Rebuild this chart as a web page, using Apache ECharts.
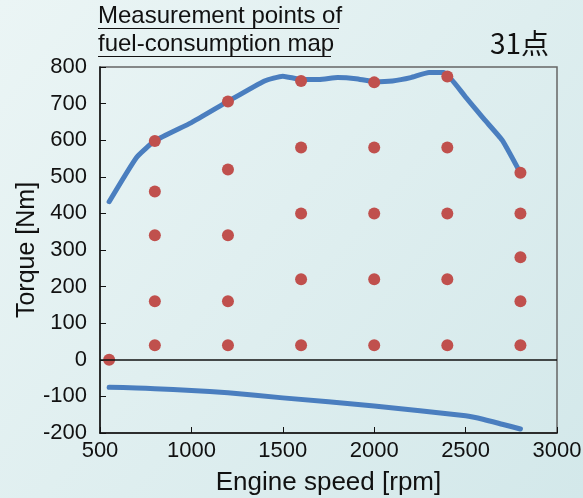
<!DOCTYPE html>
<html>
<head>
<meta charset="utf-8">
<script src="https://cdn.jsdelivr.net/npm/echarts@6/dist/echarts.min.js"></script>
<style>
  html, body { margin: 0; padding: 0; }
  #main { width: 583px; height: 498px; }
</style>
</head>
<body>
<div id="main"></div>
<script>
// measurement points (rpm, Nm)
var pointRpm = [550, 800, 800, 800, 800, 800, 1200, 1200, 1200, 1200, 1200,
  1600, 1600, 1600, 1600, 1600, 2000, 2000, 2000, 2000, 2000,
  2400, 2400, 2400, 2400, 2400, 2800, 2800, 2800, 2800, 2800];
var pointTorque = [0, 598, 460, 340, 160, 40, 706, 520, 340, 160, 40,
  762, 580, 400, 220, 40, 758, 580, 400, 220, 40,
  774, 580, 400, 220, 40, 511, 400, 280, 160, 40];

// full load curve
var maxRpm = [550, 700, 800, 1000, 1200, 1400, 1500, 1600, 1700, 1800, 1900, 2000, 2100, 2200, 2300, 2380, 2500, 2600, 2700, 2800];
var maxTorque = [432, 553, 598, 648, 706, 762, 775, 766, 766, 771, 768, 760, 762, 771, 785, 785, 718, 658, 600, 510];

// motoring curve
var motRpm = [550, 700, 800, 1000, 1200, 1500, 2000, 2500, 2600, 2700, 2800];
var motTorque = [-75, -77, -79, -84, -90, -104, -126, -153, -163, -176, -189];

var xTicks = [500, 3000, 500];     // min, max, step
var yTicks = [-200, 800, 100];

function zip(a, b) {
  return a.map(function (v, i) { return [v, b[i]]; });
}

var chart = echarts.init(document.getElementById('main'));
var font = 'Liberation Sans, Arial, sans-serif';

var option = {
  backgroundColor: new echarts.graphic.LinearGradient(0, 0, 1, 1, [
    { offset: 0, color: '#ebf5f5' },
    { offset: 1, color: '#d3e8ea' }
  ]),
  animation: false,
  textStyle: { fontFamily: font },
  grid: {
    left: 100, right: 26, top: 67, bottom: 65,
    outerBoundsMode: 'none',
    containLabel: false,
    show: true, borderColor: '#666', borderWidth: 1.5
  },
  graphic: [
    { type: 'text', left: 98, top: 4, style: { text: 'Measurement points of', font: '24px ' + font, fill: '#111' } },
    { type: 'line', shape: { x1: 98, y1: 28.5, x2: 339, y2: 28.5 }, style: { stroke: '#111', lineWidth: 1.2 } },
    { type: 'text', left: 98, top: 32, style: { text: 'fuel-consumption map', font: '24px ' + font, fill: '#111' } },
    { type: 'line', shape: { x1: 98, y1: 56.5, x2: 331, y2: 56.5 }, style: { stroke: '#111', lineWidth: 1.2 } },
    { type: 'text', left: 490, top: 29, style: { text: '31点', font: '28px "Noto Sans CJK JP", ' + font, fill: '#111' } }
  ],
  xAxis: {
    type: 'value',
    min: xTicks[0], max: xTicks[1], interval: xTicks[2],
    name: 'Engine speed [rpm]',
    nameLocation: 'middle',
    nameGap: 37,
    nameMoveOverlap: false,
    nameTextStyle: { fontSize: 26, color: '#111' },
    axisLine: { onZero: false, lineStyle: { color: '#111', width: 1.5 } },
    axisTick: { inside: true, length: 6, lineStyle: { color: '#111' } },
    axisLabel: { fontSize: 22, color: '#111', margin: 7, formatter: function (v) { return String(v); } },
    splitLine: { show: false }
  },
  yAxis: {
    type: 'value',
    min: yTicks[0], max: yTicks[1], interval: yTicks[2],
    name: 'Torque [Nm]',
    nameLocation: 'middle',
    nameGap: 60,
    nameMoveOverlap: false,
    nameTextStyle: { fontSize: 25, color: '#111' },
    axisLine: { lineStyle: { color: '#111', width: 1.5 } },
    axisTick: { inside: true, length: 6, lineStyle: { color: '#111' } },
    axisLabel: { fontSize: 22, color: '#111', margin: 13 },
    splitLine: { show: false }
  },
  series: [
    {
      type: 'line',
      data: zip(maxRpm, maxTorque),
      showSymbol: false,
      smooth: 0.15,
      lineStyle: { color: '#4a7ebf', width: 5, cap: 'round', join: 'round' },
      z: 2
    },
    {
      type: 'line',
      data: zip(motRpm, motTorque),
      showSymbol: false,
      smooth: 0.15,
      lineStyle: { color: '#4a7ebf', width: 5, cap: 'round', join: 'round' },
      z: 2
    },
    {
      type: 'scatter',
      data: zip(pointRpm, pointTorque),
      symbolSize: 12,
      itemStyle: { color: '#c0504d', opacity: 1 },
      z: 3,
      markLine: {
        silent: true,
        symbol: 'none',
        label: { show: false },
        lineStyle: { color: '#111', width: 1.5, type: 'solid' },
        data: [{ yAxis: 0 }]
      }
    }
  ]
};

chart.setOption(option);
</script>
</body>
</html>
